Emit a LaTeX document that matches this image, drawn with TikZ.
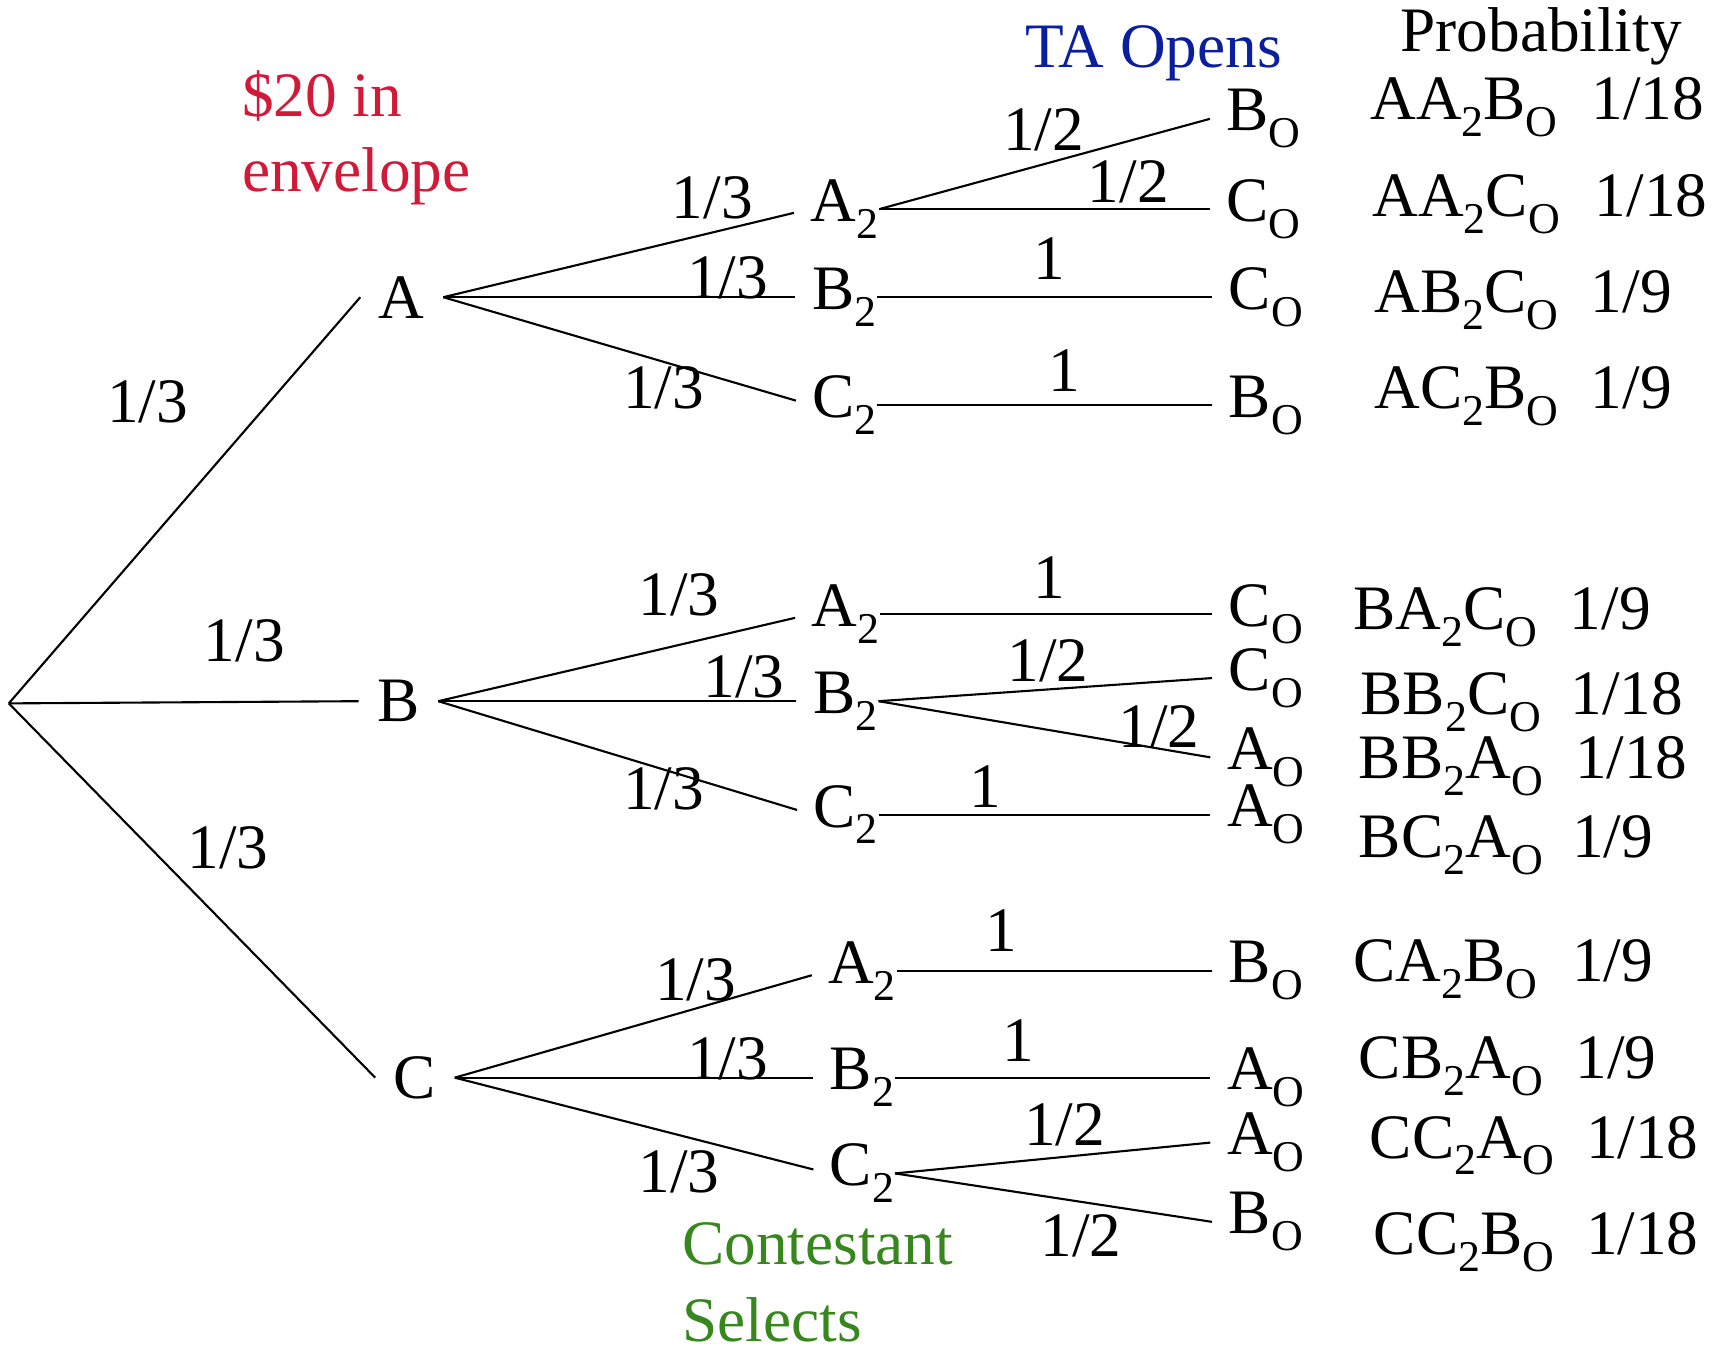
\documentclass[tikz,border=0pt]{standalone}
\usepackage{fontspec}
\setmainfont{Liberation Serif}
\newcommand{\dsub}[1]{\raisebox{-4.8pt}{\fontsize{12.5}{12.5}\selectfont #1}}
\definecolor{envred}{RGB}{210,25,55}
\definecolor{tablue}{RGB}{10,30,160}
\definecolor{selgreen}{RGB}{55,135,30}
\begin{document}
\begin{tikzpicture}[x=0.011008cm, y=-0.011008cm, line width=0.6pt,
  every node/.style={font=\fontsize{18}{21.5}\selectfont, inner sep=0pt},
  stage/.style={inner sep=5pt},
  pick/.style={inner sep=0pt},
  shown/.style={inner sep=4.5pt},
  topick/.style={shorten >=4.5pt},
  row/.style={anchor=base}]
\useasboundingbox (0,0) rectangle (1568,1228);

\node[anchor=north west, align=left, text=envred, font=\fontsize{18}{21.3}\selectfont] (env) at (219,63) {\$20 in\\envelope};
\node[text=tablue] (ta) at (1048,48) {TA Opens};
\node (prob) at (1400,33) {Probability};
\node[anchor=north west, align=left, text=selgreen, font=\fontsize{18}{21.9}\selectfont] (sel) at (619,1110) {Contestant\\Selects};

\coordinate (root) at (8,639);
\node[stage] (A) at (365,270) {A};
\node[stage] (B) at (362,637) {B};
\node[stage] (C) at (377,979) {C};
\draw (root) -- (A.west);
\draw (root) -- (B.west);
\draw (root) -- (C.west);
\node (wA) at (134,365) {1/3};
\node (wB) at (222,582) {1/3};
\node (wC) at (207,770) {1/3};

\node[pick] (AA2) at (767,190) {A\dsub{2}};
\node[pick] (AB2) at (767,270) {B\dsub{2}};
\node[pick] (AC2) at (767,368) {C\dsub{2}};
\draw[topick] (A.east) -- (AA2.west);
\draw[topick] (A.east) -- (AB2.west);
\draw[topick] (A.east) -- (AC2.west);
\node (wAA2) at (647,180) {1/3};
\node (wAB2) at (661,252) {1/3};
\node (wAC2) at (603,352) {1/3};

\node[pick] (BA2) at (768,558) {A\dsub{2}};
\node[pick] (BB2) at (768,637) {B\dsub{2}};
\node[pick] (BC2) at (768,740) {C\dsub{2}};
\draw[topick] (B.east) -- (BA2.west);
\draw[topick] (B.east) -- (BB2.west);
\draw[topick] (B.east) -- (BC2.west);
\node (wBA2) at (617,540) {1/3};
\node (wBB2) at (676,615) {1/3};
\node (wBC2) at (603,717) {1/3};

\node[pick] (CA2) at (783,882) {A\dsub{2}};
\node[pick] (CB2) at (783,979) {B\dsub{2}};
\node[pick] (CC2) at (783,1066) {C\dsub{2}};
\draw[topick] (C.east) -- (CA2.west);
\draw[topick] (C.east) -- (CB2.west);
\draw[topick] (C.east) -- (CC2.west);
\node (wCA2) at (632,890) {1/3};
\node (wCB2) at (661,962) {1/3};
\node (wCC2) at (617,1065) {1/3};

\node[shown] (AA2B) at (1148,108) {B\dsub{O}};
\node[shown] (AA2C) at (1148,190) {C\dsub{O}};
\node[shown] (AB2C) at (1150,270) {C\dsub{O}};
\node[shown] (AC2B) at (1150,368) {B\dsub{O}};
\draw (AA2.east) -- (AA2B.west);
\draw (AA2.east) -- (AA2C.west);
\draw (AB2.east) -- (AB2C.west);
\draw (AC2.east) -- (AC2B.west);
\node (wAA2B) at (948,118) {1/2};
\node (wAA2C) at (1025,165) {1/2};
\node (wAB2C) at (953,235) {1};
\node (wAC2B) at (967,337) {1};

\node[shown] (BA2C) at (1150,558) {C\dsub{O}};
\node[shown] (BB2C) at (1150,616) {C\dsub{O}};
\node[shown] (BB2A) at (1150,688) {A\dsub{O}};
\node[shown] (BC2A) at (1150,740) {A\dsub{O}};
\draw (BA2.east) -- (BA2C.west);
\draw (BB2.east) -- (BB2C.west);
\draw (BB2.east) -- (BB2A.west);
\draw (BC2.east) -- (BC2A.west);
\node (wBA2C) at (953,525) {1};
\node (wBB2C) at (952,600) {1/2};
\node (wBB2A) at (1053,660) {1/2};
\node (wBC2A) at (895,715) {1};

\node[shown] (CA2B) at (1150,882) {B\dsub{O}};
\node[shown] (CB2A) at (1150,979) {A\dsub{O}};
\node[shown] (CC2A) at (1150,1038) {A\dsub{O}};
\node[shown] (CC2B) at (1150,1110) {B\dsub{O}};
\draw (CA2.east) -- (CA2B.west);
\draw (CB2.east) -- (CB2A.west);
\draw (CC2.east) -- (CC2A.west);
\draw (CC2.east) -- (CC2B.west);
\node (wCA2B) at (910,845) {1};
\node (wCB2A) at (925,945) {1};
\node (wCC2A) at (967,1022) {1/2};
\node (wCC2B) at (982,1123) {1/2};

\node[row] (rAA2B) at (1330,109) {AA\dsub{2}B\dsub{O}};
\node[row] (vAA2B) at (1497,109) {1/18};
\node[row] (rAA2C) at (1332,197) {AA\dsub{2}C\dsub{O}};
\node[row] (vAA2C) at (1500,197) {1/18};
\node[row] (rAB2C) at (1332,284) {AB\dsub{2}C\dsub{O}};
\node[row] (vAB2C) at (1482,284) {1/9};
\node[row] (rAC2B) at (1332,371) {AC\dsub{2}B\dsub{O}};
\node[row] (vAC2B) at (1482,371) {1/9};

\node[row] (rBA2C) at (1313,572) {BA\dsub{2}C\dsub{O}};
\node[row] (vBA2C) at (1463,572) {1/9};
\node[row] (rBB2C) at (1318,649) {BB\dsub{2}C\dsub{O}};
\node[row] (vBB2C) at (1478,649) {1/18};
\node[row] (rBB2A) at (1318,707) {BB\dsub{2}A\dsub{O}};
\node[row] (vBB2A) at (1482,707) {1/18};
\node[row] (rBC2A) at (1318,779) {BC\dsub{2}A\dsub{O}};
\node[row] (vBC2A) at (1465,779) {1/9};

\node[row] (rCA2B) at (1313,892) {CA\dsub{2}B\dsub{O}};
\node[row] (vCA2B) at (1465,892) {1/9};
\node[row] (rCB2A) at (1318,980) {CB\dsub{2}A\dsub{O}};
\node[row] (vCB2A) at (1468,980) {1/9};
\node[row] (rCC2A) at (1328,1052) {CC\dsub{2}A\dsub{O}};
\node[row] (vCC2A) at (1492,1052) {1/18};
\node[row] (rCC2B) at (1330,1140) {CC\dsub{2}B\dsub{O}};
\node[row] (vCC2B) at (1492,1140) {1/18};
\end{tikzpicture}
\end{document}
